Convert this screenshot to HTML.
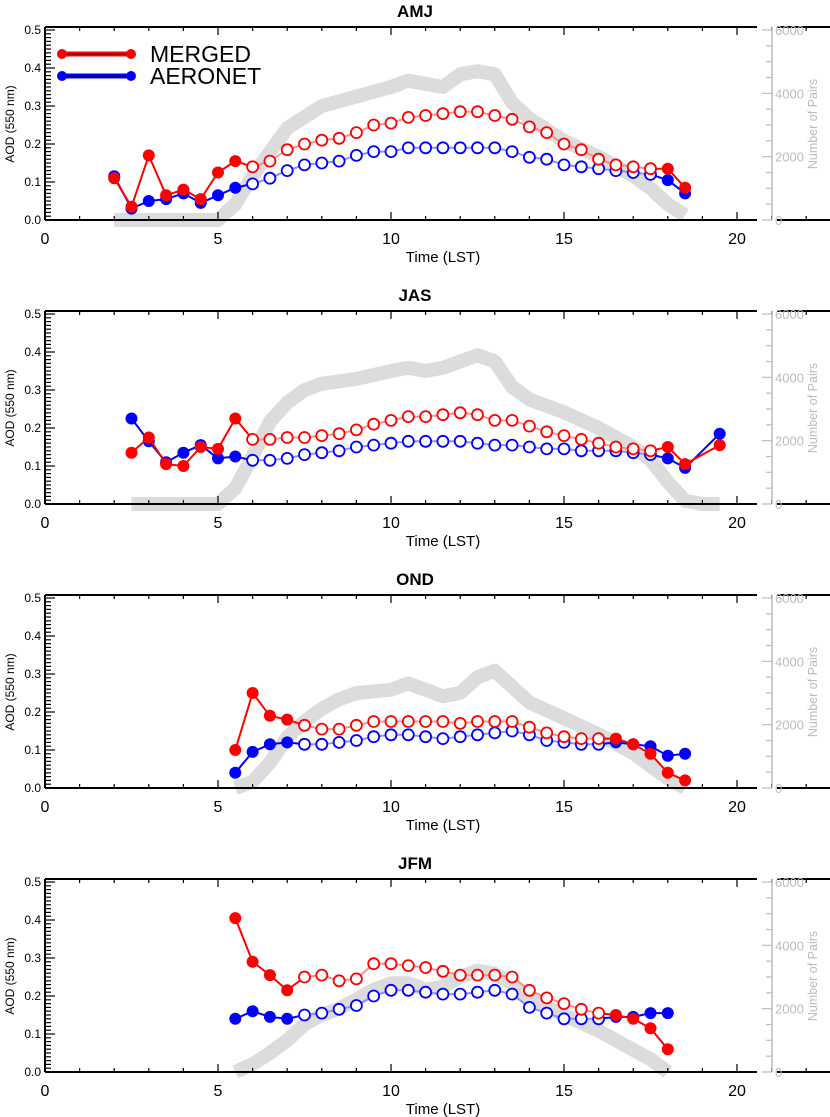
<!DOCTYPE html>
<html><head><meta charset="utf-8">
<style>
body{margin:0;background:#fff;}
svg{display:block;font-family:"Liberation Sans",sans-serif;}
</style></head>
<body>
<svg id="chart" width="830" height="1117" xmlns="http://www.w3.org/2000/svg"></svg>
<script>
const seasons = ["AMJ","JAS","OND","JFM"];
const amjHours = [2,2.5,3,3.5,4,4.5,5,5.5,6,6.5,7,7.5,8,8.5,9,9.5,10,10.5,11,11.5,12,12.5,13,13.5,14,14.5,15,15.5,16,16.5,17,17.5,18,18.5];
const amjMerged = [0.11,0.035,0.17,0.065,0.08,0.055,0.125,0.155,0.14,0.155,0.185,0.2,0.21,0.215,0.23,0.25,0.255,0.27,0.275,0.28,0.285,0.285,0.275,0.265,0.245,0.23,0.2,0.185,0.16,0.145,0.14,0.135,0.135,0.085];
const amjAeronet = [0.115,0.03,0.05,0.055,0.07,0.045,0.065,0.085,0.095,0.11,0.13,0.145,0.15,0.155,0.17,0.18,0.18,0.19,0.19,0.19,0.19,0.19,0.19,0.18,0.165,0.16,0.145,0.14,0.135,0.13,0.125,0.12,0.105,0.07];
const amjPairHours = [2,2.5,3,3.5,4,4.5,5,5.5,6,7,8,9,10,10.5,11,11.5,12,12.5,13,13.5,14,15,16,17,17.5,18,18.5];
const amjPairs = [0,0,0,0,0,0,0,500,1400,2900,3600,3900,4200,4400,4300,4200,4600,4700,4600,3700,3200,2500,2000,1400,1000,500,150];
const amjOpen = [6,17.5];

const jasHours = [2.5,3,3.5,4,4.5,5,5.5,6,6.5,7,7.5,8,8.5,9,9.5,10,10.5,11,11.5,12,12.5,13,13.5,14,14.5,15,15.5,16,16.5,17,17.5,18,18.5,19.5];
const jasMerged = [0.135,0.175,0.105,0.1,0.15,0.145,0.225,0.17,0.17,0.175,0.175,0.18,0.185,0.195,0.21,0.22,0.23,0.23,0.235,0.24,0.235,0.22,0.22,0.205,0.19,0.18,0.17,0.16,0.15,0.145,0.14,0.15,0.105,0.155];
const jasAeronet = [0.225,0.165,0.11,0.135,0.155,0.12,0.125,0.115,0.115,0.12,0.13,0.135,0.14,0.15,0.155,0.16,0.165,0.165,0.165,0.165,0.16,0.155,0.155,0.15,0.145,0.145,0.14,0.14,0.14,0.135,0.13,0.12,0.095,0.185];
const jasPairHours = [2.5,3,3.5,4,4.5,5,5.5,6,6.5,7,7.5,8,9,10,10.5,11,11.5,12,12.5,13,13.5,14,15,16,17,17.5,18,18.5,19,19.5];
const jasPairs = [0,0,0,0,0,0,500,1500,2600,3200,3600,3800,3950,4200,4300,4200,4300,4500,4700,4500,3700,3300,2900,2400,1800,1400,700,100,0,0];
const jasOpen = [6,17.5];

const ondHours = [5.5,6,6.5,7,7.5,8,8.5,9,9.5,10,10.5,11,11.5,12,12.5,13,13.5,14,14.5,15,15.5,16,16.5,17,17.5,18,18.5];
const ondMerged = [0.1,0.25,0.19,0.18,0.165,0.155,0.155,0.165,0.175,0.175,0.175,0.175,0.175,0.17,0.175,0.175,0.175,0.16,0.145,0.135,0.13,0.13,0.13,0.115,0.09,0.04,0.02];
const ondAeronet = [0.04,0.095,0.115,0.12,0.115,0.115,0.12,0.125,0.135,0.14,0.14,0.135,0.13,0.135,0.14,0.145,0.15,0.14,0.125,0.12,0.115,0.115,0.12,0.115,0.11,0.085,0.09];
const ondPairHours = [5.5,6,6.5,7,7.5,8,8.5,9,10,10.5,11,11.5,12,12.5,13,13.5,14,15,16,17,17.5,18,18.5];
const ondPairs = [0,200,800,1600,2100,2500,2800,3000,3100,3300,3100,2900,3000,3500,3700,3200,2700,2200,1700,1100,700,300,0];
const ondOpen = [7.5,16];

const jfmHours = [5.5,6,6.5,7,7.5,8,8.5,9,9.5,10,10.5,11,11.5,12,12.5,13,13.5,14,14.5,15,15.5,16,16.5,17,17.5,18];
const jfmMerged = [0.405,0.29,0.255,0.215,0.25,0.255,0.24,0.245,0.285,0.285,0.28,0.275,0.265,0.255,0.255,0.255,0.25,0.215,0.195,0.18,0.165,0.155,0.15,0.14,0.115,0.06];
const jfmAeronet = [0.14,0.16,0.145,0.14,0.15,0.155,0.165,0.175,0.2,0.215,0.215,0.21,0.205,0.205,0.21,0.215,0.205,0.17,0.155,0.14,0.14,0.14,0.145,0.145,0.155,0.155];
const jfmPairHours = [5.5,6,6.5,7,7.5,8,8.5,9,9.5,10,10.5,11,11.5,12,12.5,13,13.5,14,15,16,17,17.5,18];
const jfmPairs = [0,250,600,1000,1500,1800,2000,2300,2600,2800,2800,2600,2700,3000,3200,3100,2800,2300,1800,1300,700,400,0];
const jfmOpen = [7.5,16];

const xTicks = [0,5,10,15,20];
const yTicks = [0.0,0.1,0.2,0.3,0.4,0.5];
const pairTicks = [0,2000,4000,6000];

const panels = [
 {h:amjHours,m:amjMerged,a:amjAeronet,ph:amjPairHours,p:amjPairs,open:amjOpen},
 {h:jasHours,m:jasMerged,a:jasAeronet,ph:jasPairHours,p:jasPairs,open:jasOpen},
 {h:ondHours,m:ondMerged,a:ondAeronet,ph:ondPairHours,p:ondPairs,open:ondOpen},
 {h:jfmHours,m:jfmMerged,a:jfmAeronet,ph:jfmPairHours,p:jfmPairs,open:jfmOpen}
];

const NS="http://www.w3.org/2000/svg";
const svg=document.getElementById('chart');
function mk(tag,attrs,parent,text){const e=document.createElementNS(NS,tag);for(const k in attrs)e.setAttribute(k,attrs[k]);if(text!==undefined)e.textContent=text;(parent||svg).appendChild(e);return e;}
const X0=45, XS=34.6;
function xs(v){return X0+v*XS;}

panels.forEach((P,i)=>{
  const off=i*284;
  const y0=220+off;
  const ys=v=>y0-v*380;
  const yp=v=>y0-v/6000*190;
  const g=mk('g',{});
  
  
  const t=mk('text',{x:415,y:17+off,'text-anchor':'middle','font-size':17,'font-weight':'bold'},g,seasons[i]);
  
  
  let d=P.ph.map((h,k)=>(k?'L':'M')+xs(h).toFixed(1)+' '+yp(P.p[k]).toFixed(1)).join(' ');
  const band=mk('path',{d:d,fill:'none',stroke:'#dcdcdc','stroke-width':14,'stroke-linejoin':'round'},g);
  
  
  mk('line',{x1:X0,y1:27+off,x2:757,y2:27+off,stroke:'#000','stroke-width':2},g);
  mk('line',{x1:X0,y1:y0,x2:757,y2:y0,stroke:'#000','stroke-width':2},g);
  mk('line',{x1:777,y1:27+off,x2:830,y2:27+off,stroke:'#000','stroke-width':2},g);
  mk('line',{x1:777,y1:y0,x2:830,y2:y0,stroke:'#000','stroke-width':2},g);
  const ya=mk('line',{x1:X0,y1:27+off,x2:X0,y2:y0,stroke:'#000','stroke-width':2},g);
  
  
  for(let v=0;v<=0.5001;v+=0.01){const major=Math.abs(v*10-Math.round(v*10))<1e-6;mk('line',{x1:X0,y1:ys(v),x2:X0+(major?10:6),y2:ys(v),stroke:'#000','stroke-width':1.2},g);}
  yTicks.forEach(v=>{const tl=mk('text',{x:X0-4,y:ys(v)+4,'text-anchor':'end','font-size':12},g,v.toFixed(1));
    });
  for(let v=1;v<=22;v++){const major=v%5===0;mk('line',{x1:xs(v),y1:y0,x2:xs(v),y2:y0-(major?8:4),stroke:'#000','stroke-width':1.2},g);mk('line',{x1:xs(v),y1:27+off,x2:xs(v),y2:27+off+(major?8:4),stroke:'#000','stroke-width':1.2},g);}
  xTicks.forEach(v=>{const tl=mk('text',{x:xs(v),y:y0+24,'text-anchor':'middle','font-size':16},g,String(v));
    });
  const xt=mk('text',{x:443,y:y0+42,'text-anchor':'middle','font-size':15},g,'Time (LST)');
  
  const yt=mk('text',{x:14,y:124+off,'text-anchor':'middle','font-size':12,transform:'rotate(-90 14 '+(124+off)+')'},g,'AOD (550 nm)');
  
  const ra=mk('line',{x1:772,y1:27+off,x2:772,y2:y0,stroke:'#bbb','stroke-width':1.5},g);
  
  for(let v=0;v<=6000;v+=500){const major=v%2000===0;mk('line',{x1:772,y1:yp(v),x2:772-(major?10:6),y2:yp(v),stroke:'#bbb','stroke-width':1.2},g);}
  pairTicks.forEach(v=>{const tl=mk('text',{x:775,y:yp(v)+5,'font-size':13,fill:'#bbb'},g,String(v));
    });
  const pt=mk('text',{x:817,y:124+off,'text-anchor':'middle','font-size':12.5,fill:'#bbb',transform:'rotate(-90 817 '+(124+off)+')'},g,'Number of Pairs');
  
  [[P.a,'#0000ff','#9090ff','aeronet'],[P.m,'#ff0000','#ff9090','merged']].forEach(([vals,col,light,nm])=>{
    const isOpen=h=>h>=P.open[0]&&h<=P.open[1];
    for(let k=1;k<P.h.length;k++){
      const lt=isOpen(P.h[k])&&isOpen(P.h[k-1]);
      const seg=mk('line',{x1:xs(P.h[k-1]),y1:ys(vals[k-1]),x2:xs(P.h[k]),y2:ys(vals[k]),stroke:lt?light:col,'stroke-width':2},g);
      
    }
    P.h.forEach((h,k)=>{
      const o=isOpen(h);
      const c=mk('circle',{cx:xs(h),cy:ys(vals[k]),r:o?5.5:6,fill:o?'#fff':col,stroke:col,'stroke-width':o?1.8:0},g);
      
    });
  });
});
const lg=mk('g',{});


[['MERGED','#ff0000',54],['AERONET','#0000ff',76]].forEach(([t,c,y])=>{
  mk('line',{x1:62,y1:y,x2:131,y2:y,stroke:c,'stroke-width':5},lg);
  mk('line',{x1:66,y1:y,x2:127,y2:y,stroke:'#000','stroke-width':1.5,opacity:0.6},lg);
  mk('circle',{cx:62,cy:y,r:5,fill:c},lg);
  mk('circle',{cx:131,cy:y,r:5,fill:c},lg);
  const tx=mk('text',{x:150,y:y+8,'font-size':23},lg,t);
  
});
</script>
</body></html>
